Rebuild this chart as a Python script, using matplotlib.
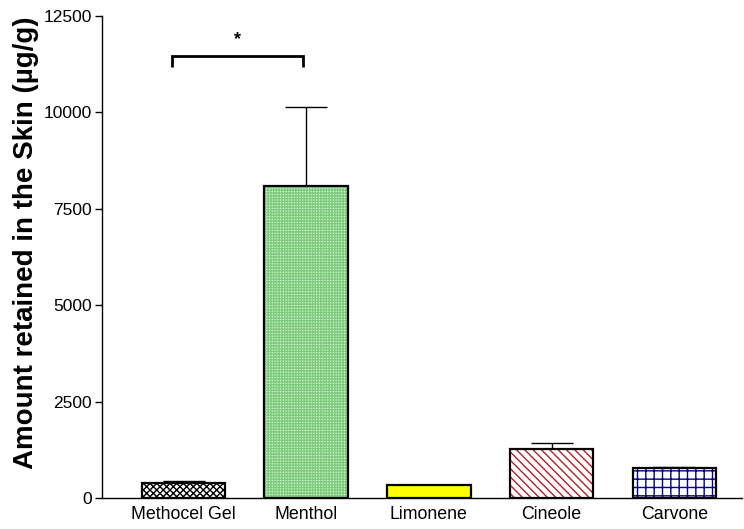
import matplotlib
matplotlib.use("Agg")
import matplotlib.pyplot as plt

plt.rcParams['font.family'] = ['Liberation Sans', 'DejaVu Sans']
plt.rcParams['hatch.linewidth'] = 1.0

# Skin retention per formulation (mean, upper SEM)
formulations = ['Methocel Gel', 'Menthol', 'Limonene', 'Cineole', 'Carvone']
retained = [380, 8090, 340, 1270, 790]
sem = [60, 2050, 0, 165, 25]

face_colors = ['white', '#dcf3dc', 'yellow', 'white', 'white']
hatch_colors = ['black', '#7ccc7c', 'black', '#b22222', 'navy']
hatches = ['xxxxx', '++++++', '', '\\\\\\\\', '++']

# significance bracket between Methocel Gel and Menthol
sig_pair = (0, 1)
sig_level = 11470
sig_drop = 280

fig = plt.figure(figsize=(7.44, 5.29), dpi=100)
ax = fig.add_axes([0.137, 0.0586, 0.86, 0.911])

x = list(range(len(formulations)))
for i in x:
    ax.bar(i, retained[i], width=0.68, color=face_colors[i], edgecolor=hatch_colors[i],
           hatch=hatches[i], linewidth=0, zorder=2)
    ax.bar(i, retained[i], width=0.68, fill=False, edgecolor='black', linewidth=1.6, zorder=3)
    if sem[i] > 0:
        ax.errorbar(i, retained[i], yerr=[[0], [sem[i]]], fmt='none', ecolor='black',
                    elinewidth=1.0, capsize=15, capthick=1.0, zorder=1)

x0, x1 = sig_pair
ax.plot([x0 - 0.09, x0 - 0.09, x1 - 0.03, x1 - 0.03],
        [sig_level - sig_drop, sig_level, sig_level, sig_level - sig_drop],
        color='black', linewidth=2, solid_capstyle='butt', solid_joinstyle='miter')
ax.text((x0 + x1) / 2 - 0.06, sig_level + 200, '*', ha='center', va='bottom',
        fontsize=13, fontweight='bold')

ax.set_xlim(-0.665, 4.55)
ax.set_ylim(0, 12500)
ax.set_yticks([0, 2500, 5000, 7500, 10000, 12500])
ax.set_xticks(x)
ax.set_xticklabels(formulations, fontsize=12.8)
ax.tick_params(axis='y', labelsize=12.5, length=5, width=1, direction='out', pad=2)
ax.tick_params(axis='x', length=0, pad=6)
ax.spines['top'].set_visible(False)
ax.spines['right'].set_visible(False)
ax.spines['left'].set_linewidth(1)
ax.spines['bottom'].set_linewidth(1)
ax.set_ylabel('Amount retained in the Skin (\u00b5g/g)', fontsize=20, fontweight='bold', labelpad=3)
ax.yaxis.set_label_coords(-0.098, 0.53)

fig.savefig('out.png', dpi=100)
